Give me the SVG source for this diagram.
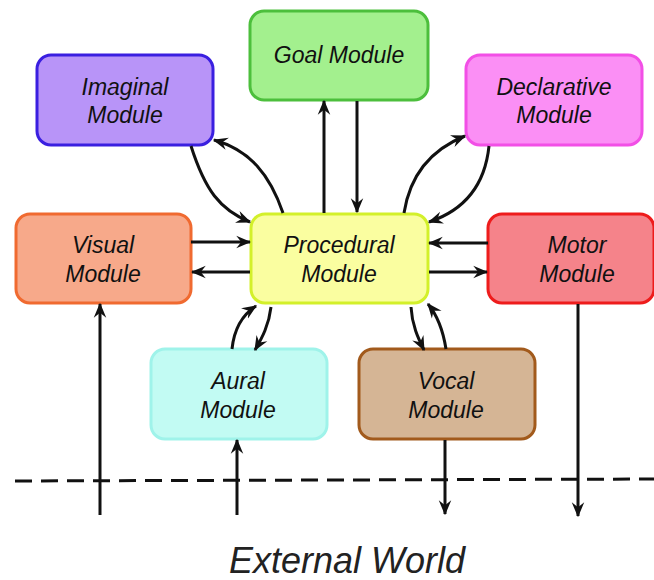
<svg xmlns="http://www.w3.org/2000/svg" width="654" height="580" viewBox="0 0 654 580">
<defs>
<marker id="ah" viewBox="0 0 12 10" refX="11" refY="5" markerWidth="5" markerHeight="5" orient="auto" markerUnits="strokeWidth">
<path d="M0,0 L12,5 L0,10 L4,5 z" fill="#111"/>
</marker>
<style>
.box{stroke-width:3}
.t{font-family:"Liberation Sans",Arial,sans-serif;font-style:italic;font-size:23px;fill:#111;text-anchor:middle}
.c{fill:none;stroke:#111;stroke-width:3;marker-end:url(#ah)}
.l{fill:none;stroke:#111;stroke-width:3}
</style>
</defs>
<rect width="654" height="580" fill="#fff"/>
<g id="imaginal"><rect class="box" x="37" y="55" width="176" height="90" rx="14" fill="#b894f8" stroke="#3a1fe0"/><text class="t" x="125" y="95">Imaginal</text><text class="t" x="125" y="123">Module</text></g>
<g id="goal"><rect class="box" x="250" y="11" width="178" height="89" rx="14" fill="#a3f08e" stroke="#4cbf3c"/><text class="t" x="339" y="63">Goal Module</text></g>
<g id="declarative"><rect class="box" x="466" y="55" width="176" height="90" rx="14" fill="#fb8ff5" stroke="#f24fe6"/><text class="t" x="554" y="95">Declarative</text><text class="t" x="554" y="123">Module</text></g>
<g id="visual"><rect class="box" x="16" y="214" width="175" height="89" rx="14" fill="#f7a98a" stroke="#f06a30"/><text class="t" x="103" y="253">Visual</text><text class="t" x="103" y="282">Module</text></g>
<g id="procedural"><rect class="box" x="251" y="214" width="177" height="89" rx="14" fill="#fafea0" stroke="#d3f02a"/><text class="t" x="339" y="253">Procedural</text><text class="t" x="339" y="282">Module</text></g>
<g id="motor"><rect class="box" x="488" y="214" width="166" height="89" rx="14" fill="#f5838a" stroke="#ee1c1c"/><text class="t" x="577" y="253">Motor</text><text class="t" x="577" y="282">Module</text></g>
<g id="aural"><rect class="box" x="151" y="349" width="176" height="90" rx="14" fill="#c2fbf3" stroke="#9ff3ea"/><text class="t" x="238" y="389">Aural</text><text class="t" x="238" y="418">Module</text></g>
<g id="vocal"><rect class="box" x="359" y="349" width="176" height="90" rx="14" fill="#d5b595" stroke="#a25a1c"/><text class="t" x="446" y="389">Vocal</text><text class="t" x="446" y="418">Module</text></g>
<g id="connectors">
<path class="c" d="M324,213 L324,101"/>
<path class="c" d="M357,101 L357,212"/>
<path class="c" d="M191,146 C205,190 220,210 250,222"/>
<path class="c" d="M283,213 C270,175 250,150 214,140"/>
<path class="c" d="M404,213 C410,175 430,150 465,136"/>
<path class="c" d="M489,146 C485,185 465,210 429,222"/>
<path class="c" d="M191,242 L250,242"/>
<path class="c" d="M250,272 L192,272"/>
<path class="c" d="M488,243 L429,243"/>
<path class="c" d="M429,272 L487,272"/>
<path class="c" d="M232,349 C234,330 242,315 256,306"/>
<path class="c" d="M271,307 C269,325 262,338 255,350"/>
<path class="c" d="M411,307 C412,325 418,338 424,350"/>
<path class="c" d="M446,349 C443,330 437,315 428,304"/>
<path class="c" d="M100,515 L100,304"/>
<path class="c" d="M237,515 L237,440"/>
<path class="c" d="M445,440 L445,514"/>
<path class="c" d="M578,304 L578,516"/>
<path class="l" d="M15,481 L654,479" stroke-dasharray="17,9" stroke-width="2.5"/>
</g>
<text x="347" y="573" font-family="'Liberation Sans',Arial,sans-serif" font-style="italic" font-size="36" fill="#222" text-anchor="middle">External World</text>
</svg>
